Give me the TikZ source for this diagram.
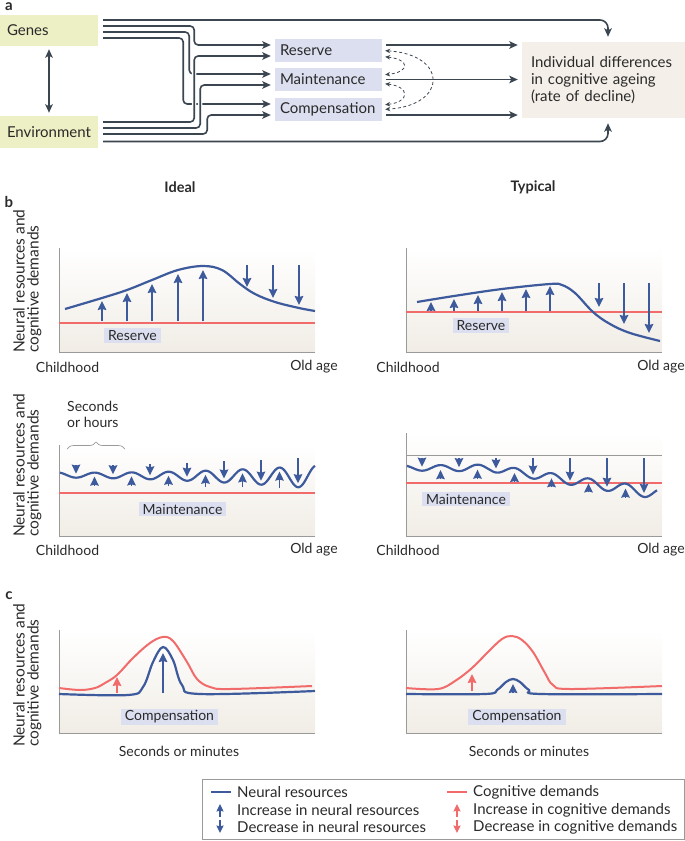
\documentclass[tikz,border=0pt]{standalone}
\usepackage{fontspec}
\setmainfont{Lato}
\usetikzlibrary{arrows.meta,decorations.pathreplacing}

\definecolor{linkgray}{HTML}{3B4650}
\definecolor{genefill}{HTML}{EDEFC4}
\definecolor{lavender}{HTML}{DCDFF0}
\definecolor{outfill}{HTML}{F4EFE8}
\definecolor{nblue}{HTML}{3D5A9C}
\definecolor{cred}{HTML}{F26B6B}
\definecolor{paper}{HTML}{F1EDE6}
\definecolor{axisgray}{HTML}{9A9A9A}
\definecolor{ink}{HTML}{2A2A2A}

% axes with shaded background: left x, top y, bottom y
\newcommand{\plotframe}[3]{%
  \shade[top color=white, bottom color=paper] (#1,#2) rectangle ({#1+256},#3);
  \draw[axisline] (#1,#2) -- (#1,#3) -- ({#1+256},#3);
}

\begin{document}
\begin{tikzpicture}[
    x=1pt, y=-1pt,
    font=\fontsize{14}{16}\selectfont,
    every node/.style={text=ink},
    genebox/.style={fill=genefill, text width=84pt, inner xsep=7pt, inner ysep=0pt, align=left, font=\fontsize{15}{17}\selectfont},
    midbox/.style={fill=lavender, minimum width=107pt, minimum height=23pt, text width=97pt, inner xsep=5pt, inner ysep=0pt, align=left, font=\fontsize{15}{17}\selectfont},
    outbox/.style={fill=outfill, minimum height=76pt, text width=145pt, inner xsep=9pt, align=left, font=\fontsize{15}{17}\selectfont},
    link/.style={draw=linkgray, line width=1.6pt, rounded corners=4pt, -{Stealth[length=8.5pt,width=7.5pt,inset=2pt]}},
    over/.style={preaction={draw=white, line width=4.5pt, arrows=-}},
    feedback/.style={draw=linkgray, line width=0.8pt, dash pattern=on 3pt off 2.5pt, {Stealth[length=5pt,width=4.5pt]}-{Stealth[length=5pt,width=4.5pt]}, shorten <=3pt, shorten >=3pt},
    axisline/.style={draw=axisgray, line width=0.8pt},
    refline/.style={draw=axisgray, line width=0.8pt},
    nres/.style={draw=nblue, line width=2.2pt},
    cdem/.style={draw=cred, line width=2pt},
    uparr/.style={draw=nblue, line width=1.8pt, -{Stealth[length=9pt,width=8.5pt,inset=1pt]}},
    downarr/.style={uparr},
    redarr/.style={draw=cred, line width=1.8pt, -{Stealth[length=9pt,width=8.5pt,inset=1pt]}},
    legarr/.style={line width=1.6pt, -{Stealth[length=7.5pt,width=7pt,inset=1pt]}},
    tag/.style={fill=lavender, inner xsep=4pt, inner ysep=2pt},
    ylab/.style={rotate=90, anchor=north west, align=left, inner sep=0pt, font=\fontsize{15.5}{14}\selectfont},
    legtext/.style={anchor=west, inner sep=0pt, font=\fontsize{15}{16}\selectfont},
    plabel/.style={font=\fontsize{15}{16}\selectfont\bfseries, inner sep=1pt},
    head/.style={font=\fontsize{14.5}{16}\selectfont\bfseries},
    brace/.style={draw=axisgray, line width=0.7pt, decorate, decoration={brace, amplitude=7pt}},
    declare function={
      cl(\x)=475+2*(\x-60)/255;
      al(\x)=2.5+9*((\x-60)/255)^2;
      wl(\x)=cl(\x)+al(\x)*cos(9.7297*(\x-76));
      cr(\x)=468+0.153*max(0,\x-490);
      ar(\x)=2.5+3*(\x-407)/250;
      wr(\x)=cr(\x)+ar(\x)*cos(9.7297*(\x-422));
    }
  ]
  \useasboundingbox (0,0) rectangle (685,841);

  % ---------- a ----------
  \node[plabel] (la) at (9,7) {a};
  \node[genebox, minimum height=31pt] (genes) at (49,30.5) {Genes};
  \node[genebox, minimum height=32pt] (env) at (49,132) {Environment};
  \node[midbox] (reserve) at (328.5,50.5) {Reserve};
  \node[midbox] (maint) at (328.5,79.5) {Maintenance};
  \node[midbox] (comp) at (328.5,109.5) {Compensation};
  \node[outbox] (indiv) at (603.5,80) {Individual differences\\in cognitive ageing\\(rate of decline)};

  \draw[link, {Stealth[length=8.5pt,width=7.5pt,inset=2pt]}-{Stealth[length=8.5pt,width=7.5pt,inset=2pt]}, shorten <=3pt, shorten >=3pt] (genes.south) -- (env.north);

  \draw[link, rounded corners=8pt, shorten >=5pt] ([xshift=5pt,yshift=10.5pt]genes.east) -| ([xshift=4.5pt]indiv.north);
  \draw[link, rounded corners=8pt, shorten >=5pt] ([xshift=5pt,yshift=-9.5pt]env.east) -| ([xshift=4.5pt]indiv.south);

  \draw[link, shorten >=4pt] ([xshift=5pt,yshift=4.5pt]genes.east) -- ++(91,0) |- ([yshift=5.5pt]reserve.west);
  \draw[link, shorten >=4pt] ([xshift=5pt,yshift=-1.5pt]genes.east) -- ++(86,0) |- ([yshift=5.5pt]maint.west);
  \draw[link, shorten >=4pt] ([xshift=5pt,yshift=-7.5pt]genes.east) -- ++(80,0) |- ([yshift=5.5pt]comp.west);
  \draw[link, over, shorten >=4pt] ([xshift=5pt,yshift=10pt]env.east) -- ++(91,0) |- ([yshift=-5.5pt]reserve.west);
  \draw[link, over, shorten >=4pt] ([xshift=5pt,yshift=4pt]env.east) -- ++(97,0) |- ([yshift=-5.5pt]maint.west);
  \draw[link, over, shorten >=4pt] ([xshift=5pt,yshift=-2pt]env.east) -- ++(104,0) |- ([yshift=-5.5pt]comp.west);

  \draw[link, shorten <=4pt, shorten >=4pt] ([yshift=5.5pt]reserve.east) -- ([yshift=5.5pt]reserve.east -| indiv.west);
  \draw[link, shorten <=4pt, shorten >=4pt] (maint.east) -- (maint.east -| indiv.west);
  \draw[link, shorten <=4pt, shorten >=4pt] ([yshift=-5.5pt]comp.east) -- ([yshift=-5.5pt]comp.east -| indiv.west);

  \draw[feedback] (reserve.east) .. controls +(66,4) and +(66,-4) .. (comp.east);
  \draw[feedback] ([yshift=-6pt]reserve.east) .. controls +(28,3) and +(28,-3) .. ([yshift=4.5pt]maint.east);
  \draw[feedback] ([yshift=-4pt]maint.east) .. controls +(28,3) and +(28,-3) .. ([yshift=4.5pt]comp.east);

  % ---------- b ----------
  \node[head] (ideal) at (180,187) {Ideal};
  \node[head] (typical) at (533,187) {Typical};
  \node[plabel] (lb) at (9,202) {b};

  % reserve
  \plotframe{59}{248}{352}
  \plotframe{406}{248}{352}
  \node[ylab] (ylab1) at (13,353) {Neural resources and\\cognitive demands};
  \draw[cdem] (59,323) -- (315,323);
  \draw[cdem] (406,312) -- (662,312);
  \draw[nres] plot[smooth, tension=0.6] coordinates {(65,309) (102,298) (127,290) (152,280) (178,270) (203,266) (222,270) (240,284) (255,294) (275,302) (299,308) (315,311)};
  \draw[nres] plot[smooth, tension=0.6] coordinates {(417,302) (454,296) (502,289) (550,284) (562,285) (575,293) (593,312) (610,324) (630,333) (660,341)};
  \foreach \x/\y in {102/301,127/293,152/284,178/274,203/270}
    \draw[uparr] (\x,321) -- (\x,\y);
  \foreach \x/\y in {247/287,273/298,299/305}
    \draw[downarr] (\x,265) -- (\x,\y);
  \foreach \x/\y in {431/302,454/299,478/295,502/292,526/289,550/286}
    \draw[uparr] (\x,311) -- (\x,\y);
  \foreach \x/\y in {599/307,624/324,649/333}
    \draw[downarr] (\x,283) -- (\x,\y);
  \node[tag] (restagl) at (132.5,335.5) {Reserve};
  \node[tag] (restagr) at (481,325.5) {Reserve};
  \node (child1) at (67.5,367) {Childhood};
  \node (old1) at (314,367) {Old age};
  \node (child2) at (408,367) {Childhood};
  \node (old2) at (661,367) {Old age};

  % maintenance
  \plotframe{59}{445}{536}
  \plotframe{406}{433}{536}
  \node[ylab] (ylab2) at (13,537) {Neural resources and\\cognitive demands};
  \node[anchor=north west, align=left, inner sep=0pt] (span) at (67,401) {Seconds\\or hours};
  \draw[brace] (67,449) -- (125,449);
  \draw[cdem] (59,493) -- (315,493);
  \draw[refline] (406,455) -- (662,455);
  \draw[cdem] (406,483) -- (662,483);
  \draw[nres] plot[domain=60:315, samples=220] (\x,{wl(\x)});
  \draw[nres] plot[domain=407:657, samples=220] (\x,{wr(\x)});
  \foreach \k in {0,...,6}{
    \pgfmathsetmacro\xa{76+37*\k}
    \pgfmathsetmacro\ya{wl(\xa)-4}
    \pgfmathsetmacro\yb{min(\ya-9,467-1.5*\k)}
    \draw[downarr] (\xa,\yb) -- (\xa,\ya);
  }
  \foreach \k in {0,...,5}{
    \pgfmathsetmacro\xa{94.5+37*\k}
    \pgfmathsetmacro\ya{wl(\xa)+4}
    \pgfmathsetmacro\yb{max(\ya+9,485+0.6*\k)}
    \draw[uparr] (\xa,\yb) -- (\xa,\ya);
  }
  \foreach \k in {0,...,6}{
    \pgfmathsetmacro\xa{422+37*\k}
    \pgfmathsetmacro\ya{wr(\xa)-4}
    \pgfmathsetmacro\yb{min(\ya-9,458)}
    \draw[downarr] (\xa,\yb) -- (\xa,\ya);
  }
  \foreach \k in {0,...,5}{
    \pgfmathsetmacro\xa{440.5+37*\k}
    \pgfmathsetmacro\ya{wr(\xa)+5}
    \draw[uparr] (\xa,\ya+9) -- (\xa,\ya);
  }
  \node[tag] (maitagl) at (182.5,509) {Maintenance};
  \node[tag] (maitagr) at (466,499) {Maintenance};
  \node (child3) at (67.5,550) {Childhood};
  \node (old3) at (314,550) {Old age};
  \node (child4) at (408,550) {Childhood};
  \node (old4) at (661,550) {Old age};

  % ---------- c ----------
  \node[plabel] (lc) at (9,596) {c};
  \plotframe{59}{630}{733}
  \plotframe{406}{630}{733}
  \node[ylab] (ylab3) at (13,747) {Neural resources and\\cognitive demands};
  \draw[cdem] plot[smooth, tension=0.6] coordinates {(59,688) (80,690) (95,688) (105,683) (117,675) (133,658) (150,643) (163,637) (173,641) (187,662) (197,679) (210,687) (230,689) (312,686)};
  \draw[nres] plot[smooth, tension=0.6] coordinates {(59,694) (128,695) (143,687) (153,662) (163,647) (173,660) (182,685) (200,694) (315,691)};
  \draw[cdem] plot[smooth, tension=0.6] coordinates {(406,688) (438,689) (455,681) (472,668) (488,652) (502,639) (512,636) (522,640) (533,652) (545,673) (553,685) (570,689) (662,686)};
  \draw[nres] plot[smooth, tension=0.6] coordinates {(406,694) (485,694) (497,690) (506,682) (513,679) (520,682) (529,690) (541,694) (662,694)};
  \draw[redarr] (117,693) -- (117,677);
  \draw[uparr] (163,693) -- (163,653);
  \draw[redarr] (472,691) -- (472,674);
  \draw[uparr] (513,693) -- (513,684);
  \node[tag] (comtagl) at (169.5,717) {Compensation};
  \node[tag] (comtagr) at (517,717) {Compensation};
  \node (timel) at (179,751) {Seconds or minutes};
  \node (timer) at (529,751) {Seconds or minutes};

  % ---------- legend ----------
  \draw[axisline] (202,779) rectangle (684,839);
  \draw[nres, line width=2pt] (211,792) -- (231,792);
  \draw[legarr, nblue] (220,817) -- (220,804);
  \draw[legarr, nblue] (220,820) -- (220,833);
  \draw[cdem] (447,792) -- (467,792);
  \draw[legarr, cred] (457,817) -- (457,804);
  \draw[legarr, cred] (457,820) -- (457,833);
  \node[legtext] (lg1) at (237,792) {Neural resources};
  \node[legtext] (lg2) at (237,810) {Increase in neural resources};
  \node[legtext] (lg3) at (237,827) {Decrease in neural resources};
  \node[legtext] (lg4) at (473,792) {Cognitive demands};
  \node[legtext] (lg5) at (473,810) {Increase in cognitive demands};
  \node[legtext] (lg6) at (473,827) {Decrease in cognitive demands};
\end{tikzpicture}
\end{document}
